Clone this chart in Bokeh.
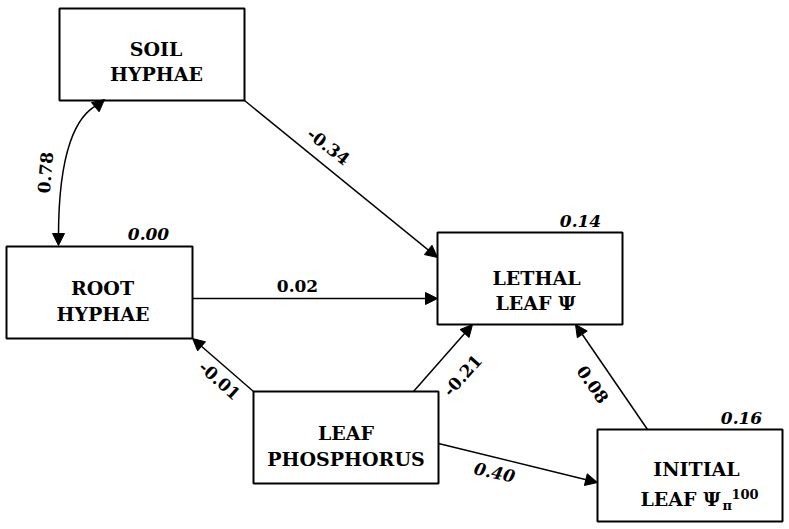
import math
from bokeh.plotting import figure
from bokeh.models import Arrow, NormalHead, Range1d, ColumnDataSource
from bokeh.core.properties import value
from bokeh.embed import file_html
from bokeh.resources import INLINE

# ---------------- data ----------------
node_line1 = ["SOIL", "ROOT", "LETHAL", "LEAF", "INITIAL"]
node_line2 = ["HYPHAE", "HYPHAE", "LEAF \u03a8", "PHOSPHORUS", "LEAF \u03a8"]
psi_sub = "\u03c0"
psi_sup = "100"
path_coefs = ["-0.34", "0.02", "-0.01", "-0.21", "0.08", "0.40"]
correlation = "0.78"
r_squared = ["0.00", "0.14", "0.16"]

# ---------------- layout ----------------
box_l = [59, 6, 437, 253, 597]
box_r = [244, 192, 622, 438, 782]
box_t = [8, 246, 232, 391, 429]
box_b = [100, 338, 324, 483, 521]
l1_x = [155.5, 102, 536, 345.5, 696]
l1_y = [48, 287, 277, 432, 468]
l2_x = [156, 102.5, 535, 345.5, 640]
l2_y = [73, 313, 302, 458, 498]
l2_align = ["center", "center", "center", "center", "left"]

ax0 = [244, 192, 253, 413, 647, 438]
ay0 = [100, 298, 391, 391, 429, 443]
ax1 = [437, 437, 192, 472, 575, 597]
ay1 = [257, 298, 338, 324, 324, 482]

cx = [328, 297, 219, 462, 592, 494]
cy = [146, 285, 380, 375, 384, 472]
cang = [-38, 0, -42, 48, -55, -12]
cstyle = ["bold", "bold", "bold", "bold", "bold", "bold italic"]

r2_x = [148, 580, 741]
r2_y = [233, 220, 417]

FONT = value("DejaVu Serif")
NODE_SIZE = "19px"
NUM_SIZE = "17px"

p = figure(width=789, height=529, x_range=Range1d(0, 789), y_range=Range1d(529, 0),
           output_backend="svg", toolbar_location=None, min_border=0,
           x_axis_location=None, y_axis_location=None)
p.grid.visible = False
p.outline_line_color = None
p.background_fill_color = "white"
p.border_fill_color = "white"

for i in range(len(ax0)):
    p.add_layout(Arrow(end=NormalHead(size=12, fill_color="black", line_color="black", line_width=1),
                       x_start=ax0[i], y_start=ay0[i], x_end=ax1[i], y_end=ay1[i],
                       line_color="black", line_width=1.5))

p.bezier(x0=[98], y0=[104], x1=[58], y1=[236], cx0=[76], cy0=[114], cx1=[58], cy1=[150],
         line_color="black", line_width=1.5)
p.add_layout(Arrow(end=NormalHead(size=12, fill_color="black", line_color="black", line_width=1),
                   x_start=92, y_start=109, x_end=104, y_end=99, line_alpha=0))
p.add_layout(Arrow(end=NormalHead(size=12, fill_color="black", line_color="black", line_width=1),
                   x_start=58, y_start=230, x_end=58, y_end=245, line_alpha=0))

p.quad(left=box_l, right=box_r, top=box_t, bottom=box_b,
       fill_color="white", line_color="black", line_width=2)

src1 = ColumnDataSource(dict(x=l1_x, y=l1_y, t=node_line1))
p.text(x="x", y="y", text="t", source=src1, text_font=FONT, text_font_style="bold",
       text_font_size=NODE_SIZE, text_align="center", text_baseline="alphabetic", text_color="black")
src2 = ColumnDataSource(dict(x=l2_x, y=l2_y, t=node_line2, a=l2_align))
p.text(x="x", y="y", text="t", text_align="a", source=src2, text_font=FONT, text_font_style="bold",
       text_font_size=NODE_SIZE, text_baseline="alphabetic", text_color="black")
p.text(x=[722], y=[505], text=[psi_sub], text_font=FONT, text_font_style="bold",
       text_font_size="13px", text_align="left", text_baseline="alphabetic")
p.text(x=[731], y=[493], text=[psi_sup], text_font=FONT, text_font_style="bold",
       text_font_size="13px", text_align="left", text_baseline="alphabetic")

for i in range(len(path_coefs)):
    p.text(x=[cx[i]], y=[cy[i]], text=[path_coefs[i]], angle=[math.radians(cang[i])],
           text_font=FONT, text_font_style=cstyle[i], text_font_size=NUM_SIZE,
           text_align="center", text_baseline="middle", text_color="black")
p.text(x=[45], y=[172], text=[correlation], angle=[math.radians(85)],
       text_font=FONT, text_font_style="bold", text_font_size=NUM_SIZE,
       text_align="center", text_baseline="middle", text_color="black")

p.text(x=r2_x, y=r2_y, text=r_squared, text_font=FONT, text_font_style="bold italic",
       text_font_size=NUM_SIZE, text_align="center", text_baseline="alphabetic", text_color="black")

open("out.html", "w").write(file_html(p, INLINE))
